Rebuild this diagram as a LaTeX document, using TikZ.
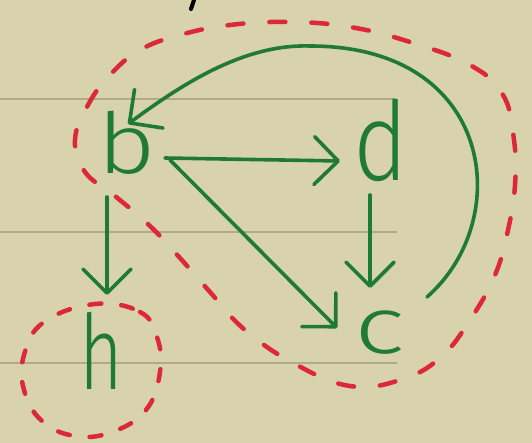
\documentclass[tikz,border=0pt]{standalone}
\usepackage{fontspec}
\usepackage{graphicx}
\newfontfamily\handfont{Fira Sans Light}
\usetikzlibrary{arrows.meta,calc}
\definecolor{paper}{HTML}{D8D3AC}
\definecolor{rulecol}{HTML}{B2A98A}
\definecolor{ink}{HTML}{1F7A35}
\definecolor{redpen}{HTML}{DC2838}
\begin{document}
\begin{tikzpicture}[x=1pt,y=-1pt,
  letter/.style={text=ink, inner sep=0pt},
  arr/.style={draw=ink, line width=3.6pt, line cap=round, line join=round,
    -{Straight Barb[round,length=24pt,width=48pt]}},
  ruling/.style={draw=rulecol, line width=1.8pt},
  grouping/.style={draw=redpen, line width=4.5pt, line cap=round,
    dash pattern=on 16pt off 26pt}
]
\fill[paper] (0,0) rectangle (532,443);
\useasboundingbox (0,0) rectangle (532,443);
% ruled lines
\draw[ruling] (0,99) -- (392,99);
\draw[ruling] (0,232) -- (397,232);
\draw[ruling] (0,363) -- (397,363);
% cropped pen mark at the top
\draw[line width=4pt, line cap=round] (191,9) -- (194,0);
% letters
\node[letter, font={\handfont\fontsize{84pt}{84pt}\selectfont}] (b) at (127,143) {\scalebox{1.2}[1]{b}};
\node[letter, font={\handfont\fontsize{110pt}{110pt}\selectfont}] (d) at (381,140) {\scalebox{0.85}[1]{d}};
\node[letter, font={\handfont\fontsize{80pt}{80pt}\selectfont}] (c) at (380,333) {\scalebox{1.35}[1]{c}};
\node[letter, font={\handfont\fontsize{104pt}{104pt}\selectfont}] (h) at (101,351) {\scalebox{0.72}[1]{h}};
% arrows
\draw[arr] ($(b)+(38,15)$) -- ($(d)+(-41,21)$);
\draw[arr] ($(b)+(43,17)$) -- ($(c)+(-43,-5)$);
\draw[arr] ($(b)+(-20,54)$) -- ($(h)+(6,-56)$);
\draw[arr] ($(d)+(-11,55)$) -- ($(c)+(-10,-45)$);
\draw[arr] ($(c)+(47,-36)$) .. controls (515,220) and (495,46) .. (310,46)
  .. controls (245,44) and (185,82) .. ($(b)+(1,-19)$);
% red dashed groupings
\draw[grouping] plot[smooth cycle, tension=0.7] coordinates {
  (75,140) (88,105) (110,75) (140,50) (180,35) (230,25) (290,22) (350,27)
  (410,42) (470,65) (503,95) (514,140) (515,185) (508,230) (495,275)
  (470,320) (440,358) (400,380) (350,386) (295,364) (245,330) (210,292)
  (180,258) (150,226) (115,196) (85,172)};
\draw[grouping, dash pattern=on 12pt off 20pt] plot[smooth cycle, tension=0.7] coordinates {
  (95,304) (140,312) (157,337) (160,372) (146,410) (112,432) (75,436)
  (42,421) (24,390) (24,355) (44,322)};
\end{tikzpicture}
\end{document}
